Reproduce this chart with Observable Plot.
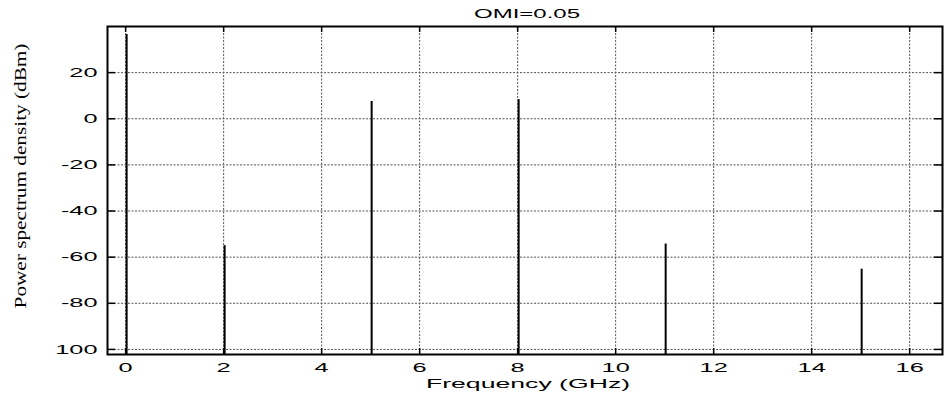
<!DOCTYPE html>
<html><head><meta charset="utf-8">
<script src="https://cdn.jsdelivr.net/npm/d3@7"></script>
<script src="https://cdn.jsdelivr.net/npm/@observablehq/plot@0.6"></script>
<style>body{margin:0;background:#fff} svg{display:block}</style>
</head><body><div id="chart"></div>
<script>
const freqGHz = [0, 2, 5, 8, 11, 15];
const psdDbm = [36.5, -55, 7.5, 8.3, -54.3, -65.2];
const xTicks = [0, 2, 4, 6, 8, 10, 12, 14, 16];
const yTicks = [20, 0, -20, -40, -60, -80, -100];
const yTickLabels = ["20", "0", "-20", "-40", "-60", "-80", "100"];
const titleText = ["OMI=0.05"];
const xLabel = ["Frequency (GHz)"];
const yLabel = ["Power spectrum density (dBm)"];
const xDomain = [-0.37, 16.67];
const yDomain = [-102.2, 40];

const W = 949, H = 395, mL = 107, mR = 7, mT = 26, mB = 41;
const fw = W - mL - mR, fh = H - mT - mB;
const data = freqGHz.map((f, i) => ({f, p: psdDbm[i]}));
const sans = "'Liberation Sans', Arial, sans-serif";
const grid = {stroke: "#555", strokeOpacity: 1, strokeWidth: 1, strokeDasharray: "2,1.5"};

const chart = Plot.plot({
  width: W, height: H,
  marginLeft: mL, marginRight: mR, marginTop: mT, marginBottom: mB,
  x: {domain: xDomain, axis: null},
  y: {domain: yDomain, axis: null},
  style: {fontFamily: sans, fontSize: "13px", background: "#fff", color: "#000"},
  marks: [
    Plot.gridX(xTicks, grid),
    Plot.gridY(yTicks, grid),
    Plot.tickX(xTicks, {x: d => d, insetTop: fh - 6, stroke: "#000", strokeWidth: 1.5}),
    Plot.tickX(xTicks, {x: d => d, insetBottom: fh - 6, stroke: "#000", strokeWidth: 1.5}),
    Plot.tickY(yTicks, {y: d => d, insetRight: fw - 8, stroke: "#000", strokeWidth: 1.5}),
    Plot.tickY(yTicks, {y: d => d, insetLeft: fw - 8, stroke: "#000", strokeWidth: 1.5}),
    Plot.ruleX(data, {x: "f", y1: yDomain[0], y2: "p", stroke: "#000", strokeWidth: 2, dx: 1}),
    Plot.frame({stroke: "#000", strokeWidth: 2}),
    Plot.text(xTicks, {x: d => d, text: d => String(d), frameAnchor: "bottom", dy: 13, lineAnchor: "middle", fill: "#000"}),
    Plot.text(yTicks, {y: d => d, text: (d, i) => yTickLabels[i], frameAnchor: "left", dx: -10, textAnchor: "end", lineAnchor: "middle", fill: "#000"}),
    Plot.text(xLabel, {frameAnchor: "bottom", dy: 29, dx: 3, lineAnchor: "middle", textAnchor: "middle", fill: "#000"}),
    Plot.text(titleText, {frameAnchor: "top", dy: -12, dx: 2, lineAnchor: "middle", textAnchor: "middle", fontSize: 12, fill: "#000"}),
    Plot.text(yLabel, {frameAnchor: "left", rotate: -90, dx: -87, dy: -14.5, textAnchor: "middle", lineAnchor: "middle", fontFamily: "'Liberation Serif', 'Times New Roman', serif", fontSize: 17, fill: "#000"})
  ]
});

d3.select(chart).selectAll("text").each(function () {
  const s = this.textContent;
  const sx = titleText.includes(s) ? 2.0 : yLabel.includes(s) ? 1.25 : xLabel.includes(s) ? 2.05 : 1.95;
  const t = this.getAttribute("transform") || "";
  this.setAttribute("transform", t + ` scale(${sx},1)`);
});

document.getElementById("chart").append(chart);
</script>
</body></html>
